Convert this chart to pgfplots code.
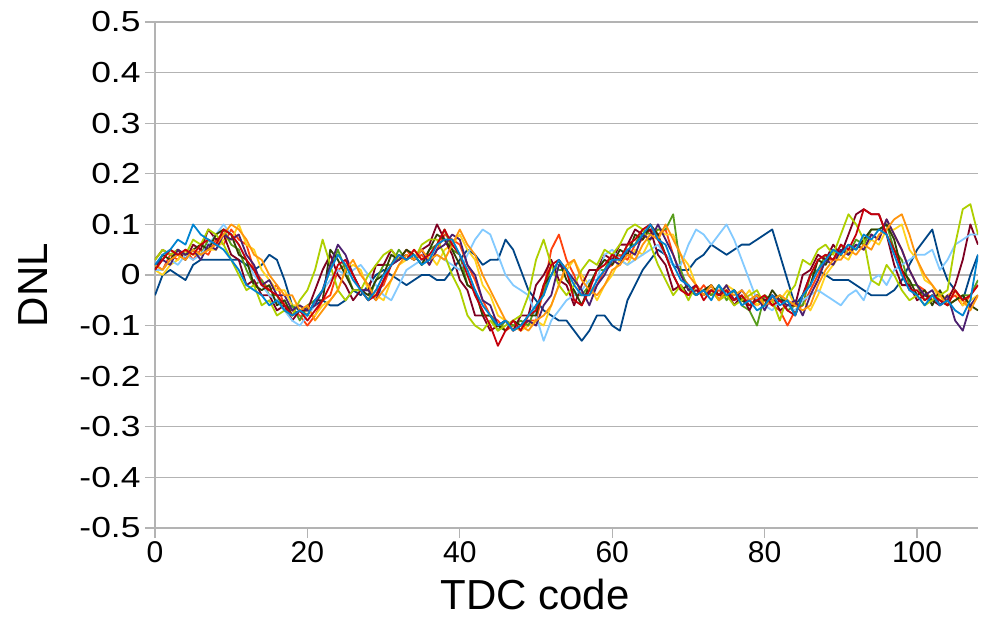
\documentclass[border=0pt]{standalone}
\usepackage{pgfplots}
\pgfplotsset{compat=1.18}
\usepackage{fontspec}
\setmainfont{Liberation Sans}
\newfontfamily\widefont[FakeStretch=1.22]{Liberation Sans}
\definecolor{c1}{HTML}{004586}
\definecolor{c2}{HTML}{FF420E}
\definecolor{c3}{HTML}{FFD320}
\definecolor{c4}{HTML}{579D1C}
\definecolor{c5}{HTML}{7E0021}
\definecolor{c6}{HTML}{83CAFF}
\definecolor{c7}{HTML}{314004}
\definecolor{c8}{HTML}{AECF00}
\definecolor{c9}{HTML}{4B1F6F}
\definecolor{c10}{HTML}{FF950E}
\definecolor{c11}{HTML}{C5000B}
\definecolor{c12}{HTML}{0084D1}
\definecolor{gridc}{HTML}{B3B3B3}
\begin{document}
\begin{tikzpicture}
\begin{axis}[
  at={(0,0)}, anchor=south west,
  scale only axis, width=823pt, height=506pt,
  xmin=0, xmax=108, ymin=-0.5, ymax=0.5,
  axis lines*=left,
  axis line style={gridc, line width=1.2pt},
  ymajorgrids, grid style={gridc, line width=1.2pt},
  tick style={gridc, line width=1.2pt},
  tick align=outside, major tick length=10pt,
  xtick={0,20,40,60,80,100},
  xticklabels={0,20,40,60,80,100},
  ytick={-0.5,-0.4,-0.3,-0.2,-0.1,0,0.1,0.2,0.3,0.4,0.5},
  yticklabels={-0.5,-0.4,-0.3,-0.2,-0.1,0,0.1,0.2,0.3,0.4,0.5},
  xticklabel style={font=\fontsize{30}{36}\selectfont, black},
  yticklabel style={font=\widefont\fontsize{29}{36}\selectfont, black, xshift=-1pt},
  xlabel={TDC code}, ylabel={DNL},
  label style={font=\fontsize{42}{50}\selectfont, black},
  xlabel style={at={(axis description cs:0.462,0)}, anchor=north, yshift=-48pt},
  ylabel style={at={(axis description cs:0,0.48)}, anchor=south, yshift=104pt},
  every axis plot/.append style={line width=1.8pt, no marks, line join=round},
]
\addplot[c1] coordinates {(0,-0.04)(1,0)(2,0.01)(3,0)(4,-0.01)(5,0.02)(6,0.03)(7,0.03)(8,0.03)(9,0.03)
(10,0.03)(11,0.03)(12,0.02)(13,0.01)(14,0.02)(15,0.04)(16,0.03)(17,-0.01)(18,-0.06)(19,-0.07)
(20,-0.07)(21,-0.06)(22,-0.05)(23,-0.06)(24,-0.06)(25,-0.05)(26,-0.03)(27,-0.04)(28,-0.02)(29,0)
(30,0.01)(31,0)(32,-0.01)(33,-0.02)(34,-0.01)(35,0)(36,0)(37,-0.01)(38,-0.01)(39,0.01)
(40,0.03)(41,0.05)(42,0.04)(43,0.02)(44,0.03)(45,0.03)(46,0.07)(47,0.05)(48,0.01)(49,-0.03)
(50,-0.05)(51,-0.07)(52,-0.08)(53,-0.09)(54,-0.09)(55,-0.11)(56,-0.13)(57,-0.11)(58,-0.08)(59,-0.08)
(60,-0.1)(61,-0.11)(62,-0.05)(63,-0.02)(64,0.01)(65,0.03)(66,0.05)(67,0.04)(68,0.02)(69,0.01)
(70,0.01)(71,0.03)(72,0.04)(73,0.06)(74,0.05)(75,0.04)(76,0.05)(77,0.06)(78,0.06)(79,0.07)
(80,0.08)(81,0.09)(82,0.04)(83,-0.01)(84,-0.06)(85,-0.04)(86,0)(87,0.01)(88,0)(89,-0.01)
(90,-0.01)(91,-0.01)(92,-0.02)(93,-0.03)(94,-0.04)(95,-0.04)(96,-0.04)(97,-0.03)(98,-0.01)(99,0.02)
(100,0.05)(101,0.07)(102,0.09)(103,0.03)(104,-0.01)(105,-0.03)(106,-0.05)(107,0)(108,0.04)};
\addplot[c2] coordinates {(0,0.02)(1,0.01)(2,0.04)(3,0.03)(4,0.05)(5,0.03)(6,0.05)(7,0.04)(8,0.07)(9,0.06)
(10,0.09)(11,0.07)(12,0.06)(13,0.01)(14,-0.01)(15,-0.03)(16,-0.02)(17,-0.06)(18,-0.07)(19,-0.08)
(20,-0.1)(21,-0.08)(22,-0.05)(23,-0.04)(24,0.01)(25,0.02)(26,0)(27,-0.03)(28,-0.05)(29,-0.03)
(30,-0.02)(31,0.02)(32,0.03)(33,0.05)(34,0.03)(35,0.04)(36,0.02)(37,0.05)(38,0.08)(39,0.07)
(40,0.06)(41,0.02)(42,-0.01)(43,-0.05)(44,-0.08)(45,-0.09)(46,-0.11)(47,-0.1)(48,-0.11)(49,-0.09)
(50,-0.09)(51,-0.03)(52,0.05)(53,0.08)(54,0.03)(55,0)(56,-0.04)(57,-0.04)(58,-0.02)(59,0.01)
(60,0.02)(61,0.04)(62,0.03)(63,0.06)(64,0.07)(65,0.09)(66,0.08)(67,0.09)(68,0.04)(69,0)
(70,-0.02)(71,-0.04)(72,-0.02)(73,-0.04)(74,-0.03)(75,-0.04)(76,-0.03)(77,-0.05)(78,-0.05)(79,-0.06)
(80,-0.05)(81,-0.06)(82,-0.07)(83,-0.1)(84,-0.07)(85,-0.06)(86,-0.03)(87,0)(88,0.03)(89,0.03)
(90,0.05)(91,0.04)(92,0.06)(93,0.05)(94,0.08)(95,0.07)(96,0.11)(97,0.08)(98,0.05)(99,0.01)
(100,-0.02)(101,-0.03)(102,-0.05)(103,-0.04)(104,-0.05)(105,-0.04)(106,-0.06)(107,-0.04)(108,-0.02)};
\addplot[c3] coordinates {(0,0.01)(1,0)(2,0.02)(3,0.03)(4,0.05)(5,0.04)(6,0.04)(7,0.05)(8,0.05)(9,0.07)
(10,0.07)(11,0.1)(12,0.06)(13,0.05)(14,0.01)(15,-0.01)(16,-0.03)(17,-0.03)(18,-0.06)(19,-0.06)
(20,-0.08)(21,-0.08)(22,-0.06)(23,-0.05)(24,-0.03)(25,0.01)(26,0.02)(27,0.01)(28,-0.03)(29,-0.04)
(30,-0.05)(31,-0.01)(32,0.02)(33,0.03)(34,0.05)(35,0.03)(36,0.04)(37,0.02)(38,0.05)(39,0.06)
(40,0.08)(41,0.05)(42,0.03)(43,-0.02)(44,-0.04)(45,-0.08)(46,-0.09)(47,-0.1)(48,-0.11)(49,-0.1)
(50,-0.09)(51,-0.1)(52,-0.06)(53,-0.02)(54,0.01)(55,0.03)(56,0)(57,-0.02)(58,-0.05)(59,-0.02)
(60,0)(61,0.03)(62,0.02)(63,0.05)(64,0.04)(65,0.07)(66,0.09)(67,0.08)(68,0.08)(69,0.04)
(70,0.02)(71,-0.02)(72,-0.04)(73,-0.03)(74,-0.05)(75,-0.02)(76,-0.03)(77,-0.05)(78,-0.03)(79,-0.06)
(80,-0.04)(81,-0.06)(82,-0.05)(83,-0.03)(84,-0.06)(85,-0.05)(86,-0.07)(87,-0.04)(88,0)(89,0.02)
(90,0.04)(91,0.03)(92,0.06)(93,0.05)(94,0.07)(95,0.06)(96,0.09)(97,0.09)(98,0.1)(99,0.05)
(100,0.03)(101,-0.01)(102,-0.02)(103,-0.05)(104,-0.04)(105,-0.03)(106,-0.06)(107,-0.05)(108,-0.04)};
\addplot[c4] coordinates {(0,0.02)(1,0.03)(2,0.05)(3,0.04)(4,0.03)(5,0.05)(6,0.04)(7,0.07)(8,0.06)(9,0.09)
(10,0.06)(11,0.05)(12,0.01)(13,-0.02)(14,-0.01)(15,-0.04)(16,-0.04)(17,-0.07)(18,-0.06)(19,-0.09)
(20,-0.06)(21,-0.05)(22,-0.03)(23,0.01)(24,0.05)(25,0.01)(26,-0.03)(27,-0.03)(28,-0.05)(29,-0.01)
(30,0.02)(31,0.02)(32,0.05)(33,0.03)(34,0.04)(35,0.02)(36,0.05)(37,0.06)(38,0.09)(39,0.05)
(40,0.04)(41,-0.02)(42,-0.03)(43,-0.08)(44,-0.08)(45,-0.11)(46,-0.09)(47,-0.1)(48,-0.09)(49,-0.1)
(50,-0.06)(51,-0.04)(52,0.02)(53,0.01)(54,0.01)(55,-0.04)(56,-0.04)(57,-0.02)(58,0.01)(59,0.01)
(60,0.04)(61,0.03)(62,0.06)(63,0.06)(64,0.09)(65,0.08)(66,0.09)(67,0.09)(68,0.12)(69,0.01)
(70,-0.03)(71,-0.04)(72,-0.03)(73,-0.04)(74,-0.02)(75,-0.05)(76,-0.03)(77,-0.06)(78,-0.07)(79,-0.1)
(80,-0.04)(81,-0.05)(82,-0.04)(83,-0.07)(84,-0.06)(85,-0.06)(86,0)(87,0.01)(88,0.04)(89,0.03)
(90,0.06)(91,0.04)(92,0.07)(93,0.06)(94,0.09)(95,0.09)(96,0.1)(97,0.05)(98,0.03)(99,-0.02)
(100,-0.02)(101,-0.05)(102,-0.04)(103,-0.05)(104,-0.06)(105,-0.05)(106,-0.04)(107,-0.04)(108,-0.01)};
\addplot[c5] coordinates {(0,0.03)(1,0.05)(2,0.04)(3,0.05)(4,0.03)(5,0.06)(6,0.05)(7,0.09)(8,0.07)(9,0.08)
(10,0.04)(11,0.03)(12,-0.02)(13,-0.01)(14,-0.04)(15,-0.04)(16,-0.07)(17,-0.06)(18,-0.09)(19,-0.07)
(20,-0.07)(21,-0.03)(22,0.01)(23,0.04)(24,0)(25,-0.02)(26,-0.05)(27,-0.03)(28,-0.03)(29,0.02)
(30,0.02)(31,0.05)(32,0.03)(33,0.04)(34,0.03)(35,0.05)(36,0.06)(37,0.1)(38,0.07)(39,0.04)
(40,-0.01)(41,-0.03)(42,-0.08)(43,-0.08)(44,-0.11)(45,-0.1)(46,-0.09)(47,-0.11)(48,-0.08)(49,-0.08)
(50,-0.02)(51,0)(52,0.03)(53,-0.01)(54,-0.02)(55,-0.06)(56,-0.02)(57,0.01)(58,0.01)(59,0.04)
(60,0.03)(61,0.06)(62,0.06)(63,0.09)(64,0.08)(65,0.09)(66,0.04)(67,0.02)(68,-0.03)(69,-0.02)
(70,-0.04)(71,-0.03)(72,-0.04)(73,-0.02)(74,-0.05)(75,-0.03)(76,-0.06)(77,-0.04)(78,-0.07)(79,-0.04)
(80,-0.05)(81,-0.04)(82,-0.07)(83,-0.06)(84,-0.06)(85,0)(86,0.01)(87,0.04)(88,0.03)(89,0.06)
(90,0.04)(91,0.08)(92,0.12)(93,0.13)(94,0.12)(95,0.12)(96,0.08)(97,0.02)(98,-0.02)(99,-0.02)
(100,-0.05)(101,-0.04)(102,-0.05)(103,-0.06)(104,-0.05)(105,-0.02)(106,0.03)(107,0.1)(108,0.06)};
\addplot[c6] coordinates {(0,0.01)(1,0.01)(2,0.03)(3,0.02)(4,0.04)(5,0.03)(6,0.04)(7,0.06)(8,0.08)(9,0.1)
(10,0.08)(11,0.06)(12,0.03)(13,0)(14,-0.02)(15,-0.04)(16,-0.05)(17,-0.07)(18,-0.09)(19,-0.1)
(20,-0.08)(21,-0.06)(22,-0.03)(23,-0.01)(24,0.01)(25,0)(26,0.01)(27,0.02)(28,0)(29,-0.02)
(30,-0.04)(31,-0.05)(32,-0.02)(33,0.01)(34,0.02)(35,0.03)(36,0.03)(37,0.04)(38,0.03)(39,0.02)
(40,0.01)(41,0.04)(42,0.07)(43,0.09)(44,0.08)(45,0.04)(46,0)(47,-0.02)(48,-0.03)(49,-0.04)
(50,-0.08)(51,-0.13)(52,-0.09)(53,-0.07)(54,-0.05)(55,-0.04)(56,-0.03)(57,-0.01)(58,-0.01)(59,0.04)
(60,0.05)(61,0.03)(62,0.02)(63,0.03)(64,0.04)(65,0.05)(66,0.06)(67,0.04)(68,0.02)(69,0.02)
(70,0.06)(71,0.09)(72,0.08)(73,0.06)(74,0.08)(75,0.1)(76,0.07)(77,0.03)(78,-0.01)(79,-0.05)
(80,-0.06)(81,-0.07)(82,-0.05)(83,-0.06)(84,-0.07)(85,-0.05)(86,-0.04)(87,-0.03)(88,-0.04)(89,-0.05)
(90,-0.06)(91,-0.04)(92,-0.03)(93,-0.05)(94,-0.01)(95,0)(96,-0.02)(97,0.01)(98,0.02)(99,0.03)
(100,0.04)(101,0.04)(102,0.05)(103,0.01)(104,0.03)(105,0.06)(106,0.07)(107,0.08)(108,0.08)};
\addplot[c7] coordinates {(0,0.01)(1,0.04)(2,0.03)(3,0.05)(4,0.04)(5,0.05)(6,0.06)(7,0.05)(8,0.08)(9,0.09)
(10,0.08)(11,0.04)(12,0.03)(13,-0.02)(14,-0.03)(15,-0.02)(16,-0.06)(17,-0.05)(18,-0.08)(19,-0.07)
(20,-0.08)(21,-0.05)(22,-0.05)(23,0.05)(24,0.03)(25,0)(26,-0.03)(27,-0.03)(28,-0.04)(29,-0.01)
(30,0)(31,0.04)(32,0.03)(33,0.05)(34,0.04)(35,0.02)(36,0.05)(37,0.08)(38,0.07)(39,0.05)
(40,0.02)(41,-0.02)(42,-0.03)(43,-0.08)(44,-0.08)(45,-0.1)(46,-0.11)(47,-0.09)(48,-0.1)(49,-0.08)
(50,-0.08)(51,-0.02)(52,0)(53,0.03)(54,-0.01)(55,-0.03)(56,-0.06)(57,-0.02)(58,0.01)(59,0.03)
(60,0.02)(61,0.05)(62,0.04)(63,0.08)(64,0.07)(65,0.1)(66,0.08)(67,0.04)(68,0)(69,-0.03)
(70,-0.02)(71,-0.04)(72,-0.03)(73,-0.02)(74,-0.04)(75,-0.04)(76,-0.03)(77,-0.05)(78,-0.06)(79,-0.05)
(80,-0.06)(81,-0.03)(82,-0.05)(83,-0.05)(84,-0.08)(85,-0.04)(86,-0.02)(87,0.03)(88,0.02)(89,0.05)
(90,0.04)(91,0.06)(92,0.05)(93,0.07)(94,0.09)(95,0.09)(96,0.1)(97,0.07)(98,0.01)(99,-0.01)
(100,-0.04)(101,-0.03)(102,-0.06)(103,-0.03)(104,-0.06)(105,-0.05)(106,-0.04)(107,-0.06)(108,-0.07)};
\addplot[c8] coordinates {(0,0.03)(1,0.05)(2,0.04)(3,0.05)(4,0.04)(5,0.07)(6,0.06)(7,0.09)(8,0.08)(9,0.06)
(10,0.03)(11,0)(12,-0.03)(13,-0.02)(14,-0.06)(15,-0.05)(16,-0.08)(17,-0.07)(18,-0.08)(19,-0.05)
(20,-0.03)(21,0.01)(22,0.07)(23,0.02)(24,-0.03)(25,-0.05)(26,-0.03)(27,-0.03)(28,0)(29,0.02)
(30,0.04)(31,0.05)(32,0.03)(33,0.04)(34,0.03)(35,0.06)(36,0.07)(37,0.07)(38,0.04)(39,0)
(40,-0.03)(41,-0.08)(42,-0.1)(43,-0.11)(44,-0.09)(45,-0.11)(46,-0.1)(47,-0.09)(48,-0.08)(49,-0.04)
(50,0.03)(51,0.07)(52,0.02)(53,-0.02)(54,-0.04)(55,-0.02)(56,0.01)(57,0.03)(58,0.02)(59,0.05)
(60,0.04)(61,0.06)(62,0.09)(63,0.1)(64,0.09)(65,0.06)(66,0.02)(67,-0.01)(68,-0.04)(69,-0.02)
(70,-0.05)(71,-0.02)(72,-0.04)(73,-0.03)(74,-0.05)(75,-0.04)(76,-0.06)(77,-0.05)(78,-0.04)(79,-0.03)
(80,-0.06)(81,-0.05)(82,-0.09)(83,-0.04)(84,-0.02)(85,0.03)(86,0.02)(87,0.05)(88,0.06)(89,0.04)
(90,0.08)(91,0.12)(92,0.1)(93,0.07)(94,-0.01)(95,-0.02)(96,0.02)(97,0)(98,-0.03)(99,-0.05)
(100,-0.04)(101,-0.06)(102,-0.05)(103,-0.04)(104,-0.03)(105,0.06)(106,0.13)(107,0.14)(108,0.08)};
\addplot[c9] coordinates {(0,0.02)(1,0.03)(2,0.02)(3,0.05)(4,0.04)(5,0.05)(6,0.03)(7,0.06)(8,0.05)(9,0.08)
(10,0.07)(11,0.08)(12,0.04)(13,0.02)(14,-0.02)(15,-0.01)(16,-0.04)(17,-0.04)(18,-0.07)(19,-0.06)
(20,-0.07)(21,-0.06)(22,-0.03)(23,0.02)(24,0.06)(25,0.04)(26,0)(27,-0.03)(28,-0.03)(29,-0.05)
(30,-0.01)(31,0.02)(32,0.03)(33,0.04)(34,0.03)(35,0.05)(36,0.02)(37,0.05)(38,0.06)(39,0.08)
(40,0.07)(41,0.02)(42,0)(43,-0.05)(44,-0.06)(45,-0.1)(46,-0.09)(47,-0.11)(48,-0.1)(49,-0.09)
(50,-0.1)(51,-0.06)(52,-0.04)(53,0.02)(54,0.01)(55,-0.01)(56,-0.03)(57,-0.06)(58,-0.02)(59,0)
(60,0.03)(61,0.02)(62,0.05)(63,0.04)(64,0.08)(65,0.07)(66,0.1)(67,0.07)(68,0.04)(69,0)
(70,-0.03)(71,-0.02)(72,-0.04)(73,-0.03)(74,-0.04)(75,-0.02)(76,-0.05)(77,-0.03)(78,-0.05)(79,-0.04)
(80,-0.07)(81,-0.04)(82,-0.05)(83,-0.06)(84,-0.05)(85,-0.08)(86,-0.04)(87,-0.01)(88,0.03)(89,0.02)
(90,0.05)(91,0.04)(92,0.06)(93,0.05)(94,0.08)(95,0.07)(96,0.11)(97,0.08)(98,0.05)(99,0.01)
(100,-0.02)(101,-0.04)(102,-0.03)(103,-0.06)(104,-0.04)(105,-0.09)(106,-0.11)(107,-0.06)(108,-0.04)};
\addplot[c10] coordinates {(0,0.02)(1,0.01)(2,0.03)(3,0.04)(4,0.03)(5,0.05)(6,0.04)(7,0.05)(8,0.06)(9,0.08)
(10,0.1)(11,0.09)(12,0.07)(13,0.04)(14,0.03)(15,0)(16,-0.02)(17,-0.04)(18,-0.04)(19,-0.07)
(20,-0.06)(21,-0.09)(22,-0.07)(23,-0.05)(24,-0.03)(25,0.01)(26,0.03)(27,0)(28,-0.02)(29,-0.05)
(30,-0.03)(31,-0.01)(32,0.02)(33,0.04)(34,0.03)(35,0.05)(36,0.03)(37,0.04)(38,0.03)(39,0.06)
(40,0.09)(41,0.06)(42,0.04)(43,0)(44,-0.03)(45,-0.06)(46,-0.09)(47,-0.11)(48,-0.1)(49,-0.11)
(50,-0.09)(51,-0.08)(52,-0.06)(53,-0.02)(54,0.02)(55,0.03)(56,-0.01)(57,-0.03)(58,-0.04)(59,-0.02)
(60,0.01)(61,0.02)(62,0.04)(63,0.03)(64,0.06)(65,0.08)(66,0.07)(67,0.1)(68,0.07)(69,0.04)
(70,0)(71,-0.02)(72,-0.04)(73,-0.02)(74,-0.05)(75,-0.03)(76,-0.04)(77,-0.03)(78,-0.05)(79,-0.04)
(80,-0.06)(81,-0.05)(82,-0.04)(83,-0.05)(84,-0.06)(85,-0.07)(86,-0.06)(87,-0.02)(88,0.01)(89,0.03)
(90,0.03)(91,0.05)(92,0.04)(93,0.06)(94,0.05)(95,0.08)(96,0.09)(97,0.11)(98,0.12)(99,0.08)
(100,0.03)(101,0)(102,-0.02)(103,-0.04)(104,-0.06)(105,-0.03)(106,-0.05)(107,-0.07)(108,-0.04)};
\addplot[c11] coordinates {(0,0.01)(1,0.03)(2,0.05)(3,0.04)(4,0.05)(5,0.04)(6,0.06)(7,0.07)(8,0.06)(9,0.09)
(10,0.08)(11,0.06)(12,0.03)(13,0.01)(14,-0.02)(15,-0.03)(16,-0.04)(17,-0.06)(18,-0.08)(19,-0.07)
(20,-0.09)(21,-0.07)(22,-0.05)(23,-0.02)(24,0.02)(25,0.03)(26,0)(27,-0.03)(28,-0.05)(29,-0.04)
(30,-0.01)(31,0.02)(32,0.04)(33,0.03)(34,0.05)(35,0.03)(36,0.04)(37,0.06)(38,0.09)(39,0.06)
(40,0.04)(41,0)(42,-0.04)(43,-0.07)(44,-0.1)(45,-0.14)(46,-0.11)(47,-0.09)(48,-0.11)(49,-0.08)
(50,-0.07)(51,-0.02)(52,0.02)(53,0.03)(54,0.01)(55,-0.05)(56,-0.06)(57,-0.03)(58,0.01)(59,0.02)
(60,0.04)(61,0.03)(62,0.06)(63,0.07)(64,0.09)(65,0.1)(66,0.07)(67,0.04)(68,0)(69,-0.03)
(70,-0.04)(71,-0.02)(72,-0.05)(73,-0.03)(74,-0.04)(75,-0.03)(76,-0.05)(77,-0.04)(78,-0.06)(79,-0.05)
(80,-0.04)(81,-0.06)(82,-0.05)(83,-0.07)(84,-0.08)(85,-0.04)(86,0)(87,0.03)(88,0.04)(89,0.03)
(90,0.06)(91,0.05)(92,0.08)(93,0.13)(94,0.12)(95,0.12)(96,0.08)(97,0.05)(98,0.01)(99,-0.03)
(100,-0.03)(101,-0.05)(102,-0.04)(103,-0.05)(104,-0.06)(105,-0.03)(106,-0.05)(107,-0.04)(108,-0.02)};
\addplot[c12] coordinates {(0,0.02)(1,0.04)(2,0.05)(3,0.07)(4,0.06)(5,0.1)(6,0.08)(7,0.07)(8,0.06)(9,0.05)
(10,0.03)(11,0.01)(12,-0.02)(13,-0.03)(14,-0.04)(15,-0.06)(16,-0.05)(17,-0.07)(18,-0.08)(19,-0.07)
(20,-0.08)(21,-0.05)(22,-0.03)(23,0.01)(24,0.04)(25,0.02)(26,-0.01)(27,-0.03)(28,-0.05)(29,-0.03)
(30,0)(31,0.02)(32,0.04)(33,0.03)(34,0.04)(35,0.02)(36,0.03)(37,0.06)(38,0.07)(39,0.07)
(40,0.04)(41,0.01)(42,-0.03)(43,-0.06)(44,-0.08)(45,-0.1)(46,-0.09)(47,-0.11)(48,-0.1)(49,-0.08)
(50,-0.06)(51,-0.04)(52,0)(53,0.03)(54,0.01)(55,-0.02)(56,-0.04)(57,-0.04)(58,-0.01)(59,0.01)
(60,0.03)(61,0.03)(62,0.05)(63,0.06)(64,0.08)(65,0.1)(66,0.07)(67,0.06)(68,0.02)(69,-0.01)
(70,-0.02)(71,-0.04)(72,-0.03)(73,-0.05)(74,-0.02)(75,-0.04)(76,-0.03)(77,-0.06)(78,-0.05)(79,-0.07)
(80,-0.06)(81,-0.04)(82,-0.06)(83,-0.05)(84,-0.08)(85,-0.04)(86,-0.02)(87,0.01)(88,0.03)(89,0.05)
(90,0.04)(91,0.06)(92,0.05)(93,0.08)(94,0.07)(95,0.09)(96,0.08)(97,0.04)(98,0)(99,-0.03)
(100,-0.04)(101,-0.06)(102,-0.04)(103,-0.06)(104,-0.05)(105,-0.07)(106,-0.08)(107,-0.05)(108,0.04)};
\end{axis}
\pgfresetboundingbox
\path ([xshift=-155pt,yshift=-98pt]current axis.south west) rectangle ([xshift=4pt,yshift=22pt]current axis.north east);
\end{tikzpicture}
\end{document}
